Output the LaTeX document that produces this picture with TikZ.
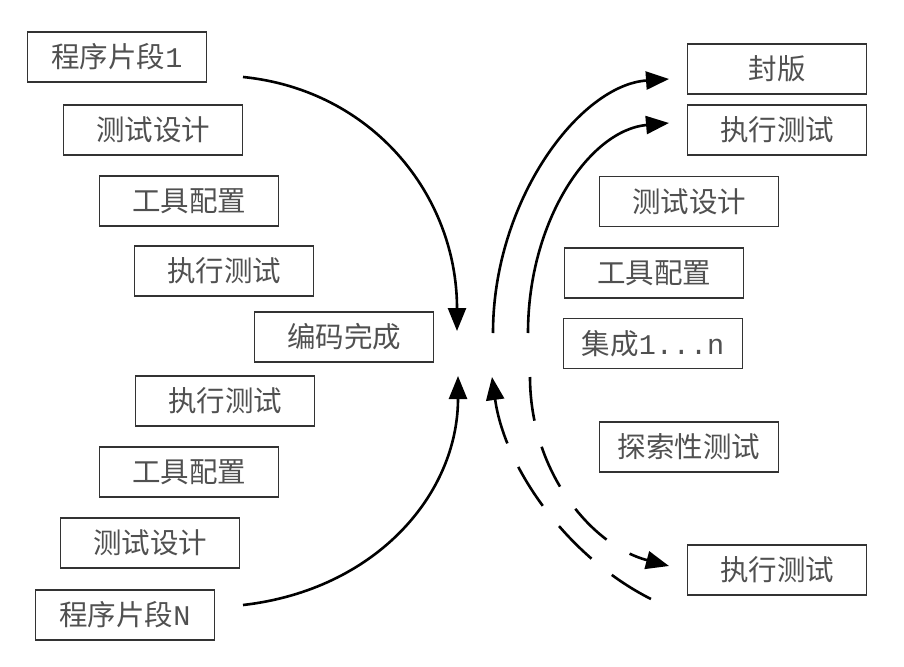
\documentclass[tikz,border=0pt]{standalone}
\usepackage{fontspec}
\newfontfamily\cjk{Noto Sans CJK SC}
\newfontfamily\halfw{Liberation Mono}
\usetikzlibrary{arrows.meta}
\definecolor{boxline}{HTML}{333333}
\definecolor{txt}{HTML}{505050}
\begin{document}
\begin{tikzpicture}[x=1pt,y=-1pt,
  box/.style={draw=boxline, line width=1.8pt, minimum width=179pt, minimum height=50pt,
    inner sep=0pt, text=txt, font=\cjk\fontsize{28.5}{30}\selectfont},
  tip/.style={-{Triangle[length=23pt,width=18pt]}},
  flow/.style={line width=2.6pt, tip},
  dashflow/.style={line width=2.6pt, dash pattern=on 46pt off 26pt}]
\useasboundingbox (0,0) rectangle (904,666);
% left column
\node[box] (l1) at (117,57) {程序片段{\halfw 1}};
\node[box] (l2) at (153,130) {测试设计};
\node[box] (l3) at (189,201) {工具配置};
\node[box] (l4) at (224,271) {执行测试};
\node[box] (c)  at (344,337) {编码完成};
\node[box] (l5) at (225,401) {执行测试};
\node[box] (l6) at (189,472) {工具配置};
\node[box] (l7) at (150,543) {测试设计};
\node[box] (l8) at (125,615) {程序片段{\halfw N}};
% right column
\node[box] (r1) at (777,69) {封版};
\node[box] (r2) at (777,130) {执行测试};
\node[box] (r3) at (689,201.5) {测试设计};
\node[box] (r4) at (654,273) {工具配置};
\node[box] (r5) at (653,343.5) {集成{\halfw 1...n}};
\node[box] (r6) at (689,447) {探索性测试};
\node[box] (r7) at (777,570) {执行测试};
% connector ends
\coordinate (a1s) at (243,77);
\coordinate (a1e) at (457,331);
\coordinate (a2s) at (243,605);
\coordinate (a2e) at (458,376);
\coordinate (a3s) at (493,333);
\coordinate (a3e) at (669,79);
\coordinate (a4s) at (528,333);
\coordinate (a4e) at (669,123);
\coordinate (d1t) at (492,377);
\coordinate (d1s) at (655,601);
\coordinate (d2s) at (530,377);
\coordinate (d2e) at (669,566);
% arrows
\draw[flow] (a1s) .. controls (372,90) and (457,195) .. (a1e);
\draw[flow] (a2s) .. controls (375,590) and (458,495) .. (a2e);
\draw[flow] (a3s) .. controls (493,200) and (580,85) .. (a3e);
\draw[flow] (a4s) .. controls (528,220) and (590,130) .. (a4e);
\draw[dashflow, {Triangle[length=23pt,width=18pt]}-] (d1t) .. controls (505,470) and (570,560) .. (d1s);
\draw[dashflow, dash pattern=on 44pt off 27pt, tip] (d2s) .. controls (530,470) and (590,545) .. (d2e);
\end{tikzpicture}
\end{document}
